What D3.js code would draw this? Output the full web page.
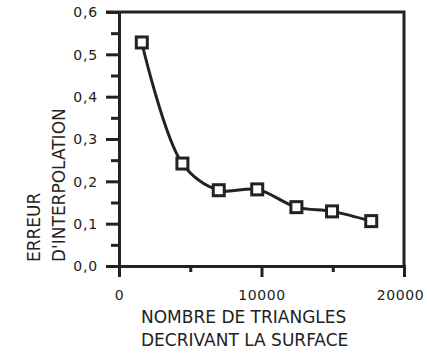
<!DOCTYPE html>
<html>
<head>
<meta charset="utf-8">
<script src="https://cdn.jsdelivr.net/npm/d3@7"></script>
<style>
  body { margin: 0; background: #fff; }
  text { font-family: "DejaVu Sans", sans-serif; fill: #222; }
</style>
</head>
<body>
<svg id="chart"></svg>
<script>
// data
const triangles = [1600, 4450, 7000, 9700, 12450, 14950, 17700];
const erreur    = [0.528, 0.242, 0.179, 0.181, 0.139, 0.129, 0.106];
const xTicks = [0, 10000, 20000];
const xMinor = [5000, 15000];
const yTicks = [0, 0.1, 0.2, 0.3, 0.4, 0.5, 0.6];
const yMinor = [0.05, 0.15, 0.25, 0.35, 0.45, 0.55];

const W = 427, H = 358;
const ink = "#222";
const lw = 3;

const svg = d3.select("#chart").attr("width", W).attr("height", H);

const x = d3.scaleLinear().domain([0, 20000]).range([119, 404]);
const y = d3.scaleLinear().domain([0, 0.6]).range([266, 12]);

// frame (top + right)
svg.append("path")
    .attr("d", `M${x(0) - 13},${y(0.6)} H${x(20000)} V${y(0)}`)
    .attr("fill", "none").attr("stroke", ink).attr("stroke-width", lw);

// y axis
const yAxis = svg.append("g").attr("transform", `translate(${x(0)},0)`)
    .call(d3.axisLeft(y).tickValues(yTicks).tickSize(13)
        .tickFormat(d => d3.format(".1f")(d).replace(".", ",")));
yAxis.selectAll(".tick line").attr("stroke", ink).attr("stroke-width", lw);
yAxis.select(".domain").attr("stroke", ink).attr("stroke-width", lw);
yAxis.selectAll("text").attr("font-size", 14).attr("letter-spacing", 0.8)
    .attr("x", -21).attr("dy", "0.35em");

const yAxis2 = svg.append("g").attr("transform", `translate(${x(0)},0)`)
    .call(d3.axisLeft(y).tickValues(yMinor).tickSize(8).tickFormat(""));
yAxis2.select(".domain").remove();
yAxis2.selectAll(".tick line").attr("stroke", ink).attr("stroke-width", lw);

// x axis
const xAxis = svg.append("g").attr("transform", `translate(0,${y(0)})`)
    .call(d3.axisBottom(x).tickValues(xTicks).tickSize(11).tickFormat(d3.format("d")));
xAxis.select(".domain").attr("stroke", ink).attr("stroke-width", lw);
xAxis.selectAll(".tick line").attr("stroke", ink).attr("stroke-width", lw);
xAxis.selectAll("text").attr("font-size", 14).attr("letter-spacing", 0.6).attr("y", 24)
    .attr("dx", d => d === 20000 ? -4 : 0);

const xAxis2 = svg.append("g").attr("transform", `translate(0,${y(0)})`)
    .call(d3.axisBottom(x).tickValues(xMinor).tickSize(6).tickFormat(""));
xAxis2.select(".domain").remove();
xAxis2.selectAll(".tick line").attr("stroke", ink).attr("stroke-width", lw);

// curve
const pts = triangles.map((t, i) => [t, erreur[i]]);
svg.append("path")
    .datum(pts)
    .attr("fill", "none").attr("stroke", ink).attr("stroke-width", lw)
    .attr("d", d3.line().x(d => x(d[0])).y(d => y(d[1])).curve(d3.curveCatmullRom.alpha(0.5)));

// square markers
const s = 11;
svg.selectAll("rect.mk").data(pts).enter().append("rect")
    .attr("class", "mk")
    .attr("x", d => x(d[0]) - s / 2).attr("y", d => y(d[1]) - s / 2)
    .attr("width", s).attr("height", s)
    .attr("fill", "#fff").attr("stroke", ink).attr("stroke-width", 3);

// axis titles
svg.append("text").attr("x", 141).attr("y", 323).attr("font-size", 17)
    .text("NOMBRE DE TRIANGLES");
svg.append("text").attr("x", 141).attr("y", 346).attr("font-size", 17)
    .text("DECRIVANT LA SURFACE");

svg.append("text").attr("transform", "translate(40,262) rotate(-90)")
    .attr("font-size", 17).text("ERREUR");
svg.append("text").attr("transform", "translate(65,262) rotate(-90)")
    .attr("font-size", 17).text("D'INTERPOLATION");
</script>
</body>
</html>
